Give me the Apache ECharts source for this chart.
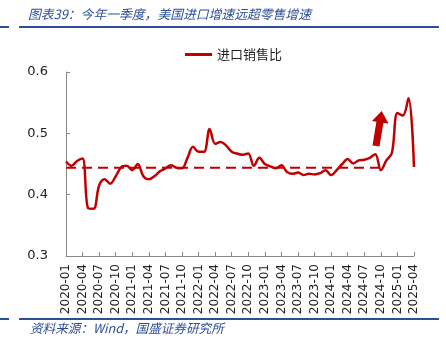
<!DOCTYPE html>
<html>
<head>
<meta charset="utf-8">
<script src="https://cdn.jsdelivr.net/npm/echarts@6/dist/echarts.min.js"></script>
<style>
  html, body { margin: 0; padding: 0; background: #fff; }
  #chart { width: 446px; height: 351px; }
</style>
</head>
<body>
<div id="chart"></div>
<script>
// 月份 2020-01 ~ 2025-04
const months = []
for (let y = 2020; y <= 2025; y++) {
  for (let m = 1; m <= 12; m++) {
    if (y === 2025 && m > 4) break
    months.push(y + '-' + (m < 10 ? '0' + m : m))
  }
}
// 进口销售比
const ratio = [
  0.454, 0.447, 0.455, 0.459, 0.378, 0.377, 0.415, 0.425, 0.418, 0.430,
  0.445, 0.447, 0.440, 0.450, 0.430, 0.425, 0.430, 0.438, 0.443, 0.448,
  0.444, 0.443, 0.460, 0.478, 0.470, 0.470, 0.507, 0.483, 0.486, 0.480,
  0.470, 0.467, 0.465, 0.467, 0.447, 0.460, 0.450, 0.446, 0.443, 0.448,
  0.437, 0.434, 0.436, 0.432, 0.434, 0.433, 0.435, 0.440, 0.432, 0.440,
  0.450, 0.458, 0.451, 0.456, 0.457, 0.460, 0.466, 0.440, 0.456, 0.468,
  0.533, 0.529, 0.557, 0.445
]
// 均值参考线（虚线，至 2024-10）
const avgValue = 0.444
const avgEnd = 57
const avgLine = months.map((m, i) => (i <= avgEnd ? avgValue : null))

const red = '#C00000'
const blue = '#2B4E9B'
const myChart = echarts.init(document.getElementById('chart'))
const option = {
  animation: false,
  legend: {
    data: ['进口销售比'],
    top: 43,
    left: 180,
    icon: 'rect',
    itemWidth: 27,
    itemHeight: 3,
    itemGap: 5,
    textStyle: {
      color: '#222',
      fontSize: 13,
      fontFamily: 'Noto Sans CJK SC'
    }
  },
  grid: {
    left: 66,
    right: 32,
    top: 72,
    bottom: 95
  },
  xAxis: {
    type: 'category',
    data: months,
    boundaryGap: false,
    axisLine: { lineStyle: { color: '#888' } },
    axisTick: { inside: true, length: 4, interval: 2, lineStyle: { color: '#888' } },
    axisLabel: {
      interval: 2,
      rotate: 90,
      margin: 8,
      color: '#222',
      fontSize: 12,
      fontFamily: 'DejaVu Sans'
    },
    splitLine: { show: false }
  },
  yAxis: {
    type: 'value',
    min: 0.3,
    max: 0.6,
    interval: 0.1,
    axisLine: { show: true, lineStyle: { color: '#888' } },
    axisTick: { show: true, inside: true, length: 4, lineStyle: { color: '#888' } },
    axisLabel: {
      margin: 18,
      color: '#222',
      fontSize: 13,
      fontFamily: 'DejaVu Sans',
      formatter: v => v.toFixed(1)
    },
    splitLine: { show: false }
  },
  series: [
    {
      name: '进口销售比',
      type: 'line',
      data: ratio,
      smooth: 0.35,
      symbol: 'none',
      lineStyle: { color: red, width: 2.5 },
      itemStyle: { color: red },
      z: 3
    },
    {
      name: '均值',
      type: 'line',
      data: avgLine,
      symbol: 'none',
      lineStyle: { color: red, width: 2, type: [10, 6] },
      itemStyle: { color: red },
      z: 2
    }
  ],
  graphic: [
    {
      type: 'text',
      left: 28,
      top: 8,
      style: {
        text: '图表39：今年一季度，美国进口增速远超零售增速',
        fill: blue,
        fontSize: 12.8,
        fontStyle: 'italic',
        fontFamily: 'Noto Sans CJK SC'
      }
    },
    { type: 'rect', shape: { x: 0, y: 26, width: 9, height: 2 }, style: { fill: blue } },
    { type: 'rect', shape: { x: 19, y: 26, width: 420, height: 2 }, style: { fill: blue } },
    { type: 'rect', shape: { x: 0, y: 318, width: 9, height: 2 }, style: { fill: blue } },
    { type: 'rect', shape: { x: 19, y: 318, width: 420, height: 2 }, style: { fill: blue } },
    {
      type: 'text',
      left: 30,
      top: 322,
      style: {
        text: '资料来源：Wind，国盛证券研究所',
        fill: blue,
        fontSize: 12.6,
        fontStyle: 'italic',
        fontFamily: 'Noto Sans CJK SC'
      }
    },
    {
      // 上升箭头
      type: 'polygon',
      shape: {
        points: [
          [372.5, 145.4], [379.5, 146.6], [383.4, 122.9], [388.5, 123.6],
          [381.7, 111.0], [372.0, 121.0], [376.4, 121.7]
        ]
      },
      style: { fill: red }
    }
  ]
}
myChart.setOption(option)
</script>
</body>
</html>
